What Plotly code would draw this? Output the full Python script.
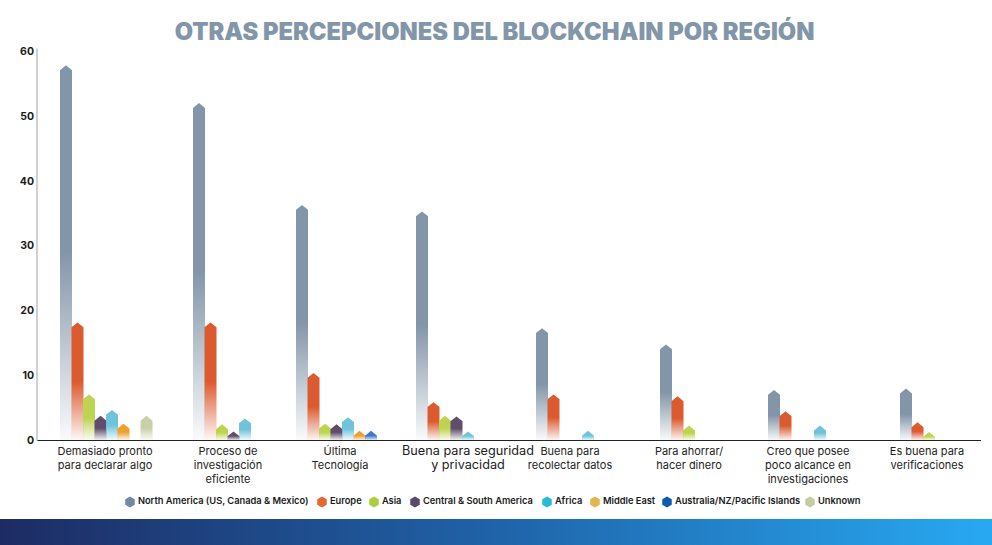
import plotly.graph_objects as go

categories = ["Demasiado pronto<br>para declarar algo", "Proceso de<br>investigación<br>eficiente", "Última<br>Tecnología",
              "<span style=\"font-size:12.7px\">Buena para seguridad<br>y privacidad</span>", "Buena para<br>recolectar datos", "Para ahorrar/<br>hacer dinero",
              "Creo que posee<br>poco alcance en<br>investigaciones", "Es buena para<br>verificaciones"]
north_america = [57.8, 52.0, 36.3, 35.3, 17.3, 14.8, 7.8, 8.0]
europe = [18.2, 18.2, 10.4, 5.9, 7.1, 6.8, 4.5, 2.8]
asia = [7.1, 2.5, 2.6, 3.8, 0, 2.3, 0, 1.3]
central_south = [3.8, 1.4, 2.5, 3.7, 0, 0, 0, 0]
africa = [4.7, 3.4, 3.6, 1.4, 1.5, 0, 2.3, 0]
middle_east = [2.6, 0, 1.5, 0, 0, 0, 0, 0]
australia = [0, 0, 1.5, 0, 0, 0, 0, 0]
unknown = [3.8, 0, 0, 0, 0, 0, 0, 0]
y_ticks = [0, 10, 20, 30, 40, 50, 60]

series = [
    ("North America (US, Canada & Mexico)", north_america, "#8396a9", "#6f8ba3"),
    ("Europe", europe, "#dc5a30", "#e4692f"),
    ("Asia", asia, "#bcd44f", "#abcf3f"),
    ("Central & South America", central_south, "#5f4d6b", "#5b4a68"),
    ("Africa", africa, "#6fc3da", "#27bcd1"),
    ("Middle East", middle_east, "#eda02f", "#e2b54f"),
    ("Australia/NZ/Pacific Islands", australia, "#3f78c4", "#0b5cad"),
    ("Unknown", unknown, "#c9cfa8", "#c5cca3"),
]

W, H = 992, 545
group_left = [60, 193, 296, 416, 536, 660, 768, 900]
group_label = [105, 228, 340, 468, 570, 689, 808, 927]
legend_x = [130, 322, 374, 415, 547, 595, 667, 810]
slot, bar_w, tip = 11.5, 12, 0.75

fig = go.Figure()
for s, (name, vals, col, legcol) in enumerate(series):
    for g, v in enumerate(vals):
        if v <= 0:
            continue
        x0 = group_left[g] + s * slot
        shoulder = max(v - tip, 0.05)
        r, gg, b = int(col[1:3], 16), int(col[3:5], 16), int(col[5:7], 16)
        fig.add_trace(go.Scatter(
            x=[x0, x0, x0 + bar_w / 2, x0 + bar_w, x0 + bar_w, x0],
            y=[0, shoulder, v, shoulder, 0, 0],
            mode="none", fill="toself", showlegend=False, hoverinfo="skip",
            fillgradient=dict(type="vertical", start=0, stop=v,
                              colorscale=[[0, f"rgba({r},{gg},{b},0.04)"], [0.5, col], [1, col]]),
        ))
    fig.add_trace(go.Scatter(x=[legend_x[s]], y=[0.5], xaxis="x3", yaxis="y3", name=name, text=[name],
                             mode="markers+text", textposition="middle right", showlegend=False, hoverinfo="skip",
                             textfont=dict(family="Inter", size=9.3, color="#1a1a1a", weight=600),
                             marker=dict(symbol="hexagon", size=11, color=legcol)))

# bottom strip
fig.add_trace(go.Scatter(x=[0, 1, 1, 0, 0], y=[0, 0, 1, 1, 0], xaxis="x2", yaxis="y2",
                         mode="none", fill="toself", showlegend=False, hoverinfo="skip",
                         fillgradient=dict(type="horizontal", start=0, stop=1,
                                           colorscale=[[0, "#1d2b63"], [0.5, "#1f63a8"], [1, "#27a9f2"]])))

plot_l, plot_r, y0px, y_top, y_max = 37, 981, 440.5, 48.5, 60.4
fig.update_layout(
    width=W, height=H, margin=dict(l=0, r=0, t=0, b=0, autoexpand=False),
    paper_bgcolor="white", plot_bgcolor="white", showlegend=False,
    title=dict(text="OTRAS PERCEPCIONES DEL BLOCKCHAIN POR REGIÓN", x=0.4985, xanchor="center", y=0.942, yanchor="middle",
               font=dict(family="Inter", size=23.7, color="#8296a9", weight=900)),
    xaxis=dict(domain=[plot_l / W, plot_r / W], range=[plot_l, plot_r], tickmode="array",
               tickvals=group_label, ticktext=categories, showgrid=False, zeroline=False,
               showline=False, ticks="", tickangle=0, automargin=False, ticklabelstandoff=2,
               tickfont=dict(family="Inter", size=11, color="#222222")),
    yaxis=dict(domain=[1 - y0px / H, 1 - y_top / H], range=[0, y_max], tickmode="array", tickvals=y_ticks,
               showgrid=False, zeroline=True, zerolinecolor="#222222", zerolinewidth=1.2, automargin=False,
               showline=False, ticks="", ticklabelstandoff=2,
               tickfont=dict(family="Inter", size=10.5, color="#1a1a1a", weight=700)),
    xaxis2=dict(domain=[0, 1], range=[0, 1], visible=False, anchor="y2", fixedrange=True),
    yaxis2=dict(domain=[0, 26 / H], range=[0, 1], visible=False, anchor="x2", fixedrange=True),
    xaxis3=dict(domain=[0, 1], range=[0, W], visible=False, anchor="y3", fixedrange=True),
    yaxis3=dict(domain=[(H - 512) / H, (H - 492) / H], range=[0, 1], visible=False, anchor="x3", fixedrange=True),
    shapes=[dict(type="line", xref="paper", yref="paper", x0=plot_l / W, x1=plot_l / W,
                 y0=1 - y0px / H, y1=1 - y_top / H, line=dict(color="#d0d0d0", width=2))],
)
fig.write_html("out.html", config=dict(displayModeBar=False),
               post_script="document.body.style.margin='0';document.documentElement.style.overflow='hidden';")
